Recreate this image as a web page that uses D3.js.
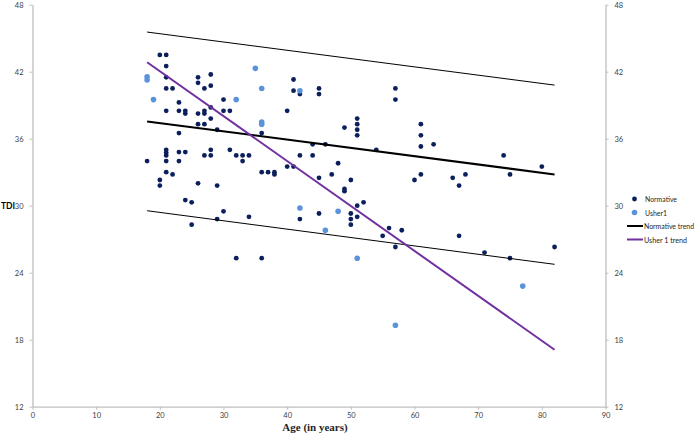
<!DOCTYPE html>
<html>
<head>
<meta charset="utf-8">
<script src="https://cdn.jsdelivr.net/npm/d3@7"></script>
<style>
  body { margin: 0; background: #fff; }
  text { font-family: Lato, "Liberation Sans", sans-serif; }
</style>
</head>
<body>
<script>
// [age, TDI] readings
const normative = [
  [18, 34],
  [20, 43.5], [20, 32.3], [20, 31.8],
  [21, 43.5], [21, 42.5], [21, 41.5], [21, 40.5], [21, 38.5], [21, 35], [21, 34.75], [21, 34.5], [21, 34], [21, 33],
  [22, 40.5], [22, 32.8],
  [23, 39.25], [23, 38.5], [23, 36.5], [23, 34.8], [23, 34],
  [24, 38.5], [24, 38.25], [24, 34.8], [24, 30.5],
  [25, 30.3], [25, 28.3],
  [26, 41.5], [26, 41], [26, 38.25], [26, 37.3], [26, 32],
  [27, 40.5], [27, 38.5], [27, 38.25], [27, 37.3], [27, 34.5],
  [28, 41.75], [28, 40.75], [28, 38.8], [28, 37.8], [28, 35], [28, 34.5],
  [29, 36.8], [29, 31.8], [29, 28.8],
  [30, 39.5], [30, 38.5], [30, 29.5],
  [31, 38.5], [31, 35],
  [32, 34.5], [32, 25.3],
  [33, 34.5], [33, 34],
  [34, 34.5], [34, 29],
  [36, 36.5], [36, 33], [36, 25.3],
  [37, 33],
  [38, 33], [38, 32.8],
  [40, 38.5], [40, 33.5],
  [41, 41.3], [41, 40.3], [41, 33.5],
  [42, 40], [42, 34.5], [42, 28.8],
  [44, 35.5], [44, 34.5],
  [45, 40.5], [45, 40], [45, 32.5], [45, 29.3],
  [46, 35.5], [47, 32.8], [48, 33.8],
  [49, 37], [49, 31.5], [49, 31.3],
  [50, 32.3], [50, 29.3], [50, 28.8], [50, 28.3],
  [51, 37.8], [51, 37.3], [51, 36.8], [51, 36.3], [51, 30], [51, 29],
  [52, 30.3], [54, 35], [55, 27.3], [56, 28],
  [57, 40.5], [57, 39.5], [57, 26.3],
  [58, 27.8], [60, 32.3],
  [61, 37.3], [61, 36.3], [61, 35.3], [61, 32.8],
  [63, 35.5], [66, 32.5], [67, 31.8], [67, 27.3], [68, 32.8],
  [71, 25.8], [74, 34.5], [75, 32.8], [75, 25.3], [80, 33.5], [82, 26.3]
];

const usher1 = [
  [18, 41.55], [18, 41.25], [19, 39.5], [32, 39.5], [35, 42.3],
  [36, 40.5], [36, 37.5], [36, 37.3], [42, 40.3], [42, 29.8],
  [46, 27.8], [48, 29.5], [51, 25.3], [57, 19.3], [77, 22.8]
];

const normativeTrend = [[18, 37.55], [82, 32.8]];
const normativeUpper = [[18, 45.55], [82, 40.8]];
const normativeLower = [[18, 29.55], [82, 24.75]];
const usherTrend = [[18, 42.85], [82, 17.1]];

const xTicks = [0, 10, 20, 30, 40, 50, 60, 70, 80, 90];
const yTicks = [12, 18, 24, 30, 36, 42, 48];

const legendItems = [
  { label: "Normative", type: "dot", color: "#0b1f5c", r: 2.4, len: 32 },
  { label: "Usher1", type: "dot", color: "#5b93db", r: 2.8, len: 22 },
  { label: "Normative trend", type: "line", color: "#000", w: 2, len: 50 },
  { label: "Usher 1 trend", type: "line", color: "#7030a0", w: 2, len: 43 }
];

const W = 697, H = 435;
const margin = { top: 4.7, right: 91.5, bottom: 28.3, left: 32.5 };

const svg = d3.select("body").append("svg")
  .attr("width", W)
  .attr("height", H);

const x = d3.scaleLinear().domain([0, 90]).range([margin.left, W - margin.right]);
const y = d3.scaleLinear().domain([12, 48]).range([H - margin.bottom, margin.top]);

const axisColor = "#bfbfbf";

function styleAxis(g) {
  g.select(".domain").attr("stroke", axisColor).attr("stroke-width", 1.3);
  g.selectAll(".tick line").attr("stroke", axisColor);
  g.selectAll(".tick text").attr("fill", "#404040").style("font-size", "7.5px");
}

svg.append("g")
  .attr("transform", `translate(${margin.left},0)`)
  .call(d3.axisLeft(y).tickValues(yTicks).tickSize(3).tickSizeOuter(0).tickPadding(6))
  .call(styleAxis);

svg.append("g")
  .attr("transform", `translate(${W - margin.right},0)`)
  .call(d3.axisRight(y).tickValues(yTicks).tickSize(3).tickSizeOuter(0).tickPadding(6))
  .call(styleAxis);

svg.append("g")
  .attr("transform", `translate(0,${H - margin.bottom})`)
  .call(d3.axisBottom(x).tickValues(xTicks).tickSize(3).tickSizeOuter(0).tickPadding(3))
  .call(styleAxis);

svg.append("text")
  .attr("x", 8)
  .attr("y", y(30) + 3)
  .attr("text-anchor", "middle")
  .style("font-size", "8.5px")
  .style("font-weight", "bold")
  .text("TDI");

svg.append("text")
  .attr("x", x(45) - 4)
  .attr("y", 431)
  .attr("text-anchor", "middle")
  .style("font-family", "'Liberation Serif', serif")
  .style("font-size", "11px")
  .style("font-weight", "bold")
  .attr("fill", "#262626")
  .text("Age (in years)");

svg.append("g").selectAll("circle")
  .data(normative)
  .join("circle")
  .attr("cx", d => x(d[0]))
  .attr("cy", d => y(d[1]))
  .attr("r", 2.4)
  .attr("fill", "#0b1f5c");

svg.append("g").selectAll("circle")
  .data(usher1)
  .join("circle")
  .attr("cx", d => x(d[0]))
  .attr("cy", d => y(d[1]))
  .attr("r", 2.8)
  .attr("fill", "#5b93db");

const line = d3.line().x(d => x(d[0])).y(d => y(d[1]));

svg.append("path").datum(normativeUpper)
  .attr("d", line).attr("fill", "none").attr("stroke", "#000").attr("stroke-width", 1);
svg.append("path").datum(normativeLower)
  .attr("d", line).attr("fill", "none").attr("stroke", "#000").attr("stroke-width", 1);
svg.append("path").datum(normativeTrend)
  .attr("d", line).attr("fill", "none").attr("stroke", "#000").attr("stroke-width", 2);
svg.append("path").datum(usherTrend)
  .attr("d", line).attr("fill", "none").attr("stroke", "#7030a0").attr("stroke-width", 2);

// legend
const legend = svg.append("g").attr("transform", "translate(627,199)");
const rows = legend.selectAll("g")
  .data(legendItems)
  .join("g")
  .attr("transform", (d, i) => `translate(0,${i * 13.5})`);

rows.filter(d => d.type === "dot").append("circle")
  .attr("cx", 7.5).attr("cy", 0).attr("r", d => d.r).attr("fill", d => d.color);
rows.filter(d => d.type === "line").append("line")
  .attr("x1", 0).attr("x2", 16).attr("y1", 0).attr("y2", 0)
  .attr("stroke", d => d.color).attr("stroke-width", d => d.w);
rows.append("text")
  .attr("x", d => d.type === "dot" ? 18 : 17)
  .attr("y", 3)
  .attr("textLength", d => d.len)
  .attr("lengthAdjust", "spacingAndGlyphs")
  .style("font-size", "7px")
  .attr("fill", "#262626")
  .text(d => d.label);
</script>
</body>
</html>
